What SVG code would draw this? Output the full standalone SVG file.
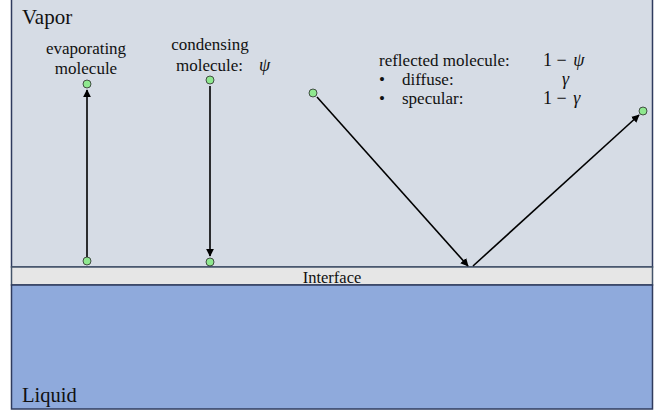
<svg xmlns="http://www.w3.org/2000/svg" width="662" height="413" viewBox="0 0 662 413">
<style>
.t{font-family:"Liberation Serif","Times New Roman",serif;fill:#111;}
.m{font-family:"Liberation Serif","Times New Roman",serif;font-style:italic;fill:#111;}
.dot{fill:#8fe88f;stroke:#2a2a2a;stroke-width:0.8;}
.ln{stroke:#000;stroke-width:1.6;fill:none;marker-end:url(#ah);}
</style>
<defs>
<marker id="ah" viewBox="0 0 10 10" refX="9" refY="5" markerWidth="5" markerHeight="5" orient="auto" markerUnits="strokeWidth">
<path d="M0,0 L10,5 L0,10 z" fill="#000"/>
</marker>
</defs>
<g id="vapor">
<rect x="11.5" y="-2" width="641" height="269" fill="#d6dce5" stroke="#2f3b5e" stroke-width="1.5"/>
<text class="t" x="22" y="24" font-size="21">Vapor</text>
</g>
<g id="interface">
<rect x="11.5" y="267" width="641" height="18" fill="#e6e6e6" stroke="#44546a" stroke-width="1.5"/>
<text class="t" x="332" y="283" font-size="16.5" text-anchor="middle">Interface</text>
</g>
<g id="liquid">
<rect x="11.5" y="285" width="641" height="124" fill="#8faadc" stroke="#2f3b5e" stroke-width="1.5"/>
<text class="t" x="22" y="402" font-size="20.5">Liquid</text>
</g>
<g id="labels">
<text class="t" x="86" y="54" font-size="17" text-anchor="middle">evaporating</text>
<text class="t" x="86" y="74" font-size="17" text-anchor="middle">molecule</text>
<text class="t" x="210" y="50" font-size="17" text-anchor="middle">condensing</text>
<text class="t" x="176" y="71" font-size="17">molecule:</text>
<text class="m" x="259" y="71" font-size="18">ψ</text>
<text class="t" x="379" y="66" font-size="17">reflected molecule:</text>
<text class="t" x="543" y="66" font-size="18">1 − <tspan class="m" dx="2">ψ</tspan></text>
<text class="t" x="379" y="85" font-size="17">•</text>
<text class="t" x="402" y="85" font-size="17">diffuse:</text>
<text class="m" x="562" y="85" font-size="18">γ</text>
<text class="t" x="379" y="104" font-size="17">•</text>
<text class="t" x="402" y="104" font-size="17">specular:</text>
<text class="t" x="543" y="104" font-size="18">1 − <tspan class="m" dx="2">γ</tspan></text>
</g>
<g id="connectors">
<line class="ln" x1="87" y1="257" x2="87" y2="90"/>
<line class="ln" x1="210" y1="86" x2="210" y2="256"/>
<line class="ln" x1="317" y1="97" x2="468" y2="266"/>
<line class="ln" x1="473" y1="266" x2="639" y2="115"/>
</g>
<g id="molecules">
<circle class="dot" cx="87" cy="84" r="4"/>
<circle class="dot" cx="87" cy="261" r="4"/>
<circle class="dot" cx="210" cy="80" r="4"/>
<circle class="dot" cx="210" cy="262" r="4"/>
<circle class="dot" cx="313" cy="93" r="4"/>
<circle class="dot" cx="643" cy="111" r="4"/>
</g>
</svg>
